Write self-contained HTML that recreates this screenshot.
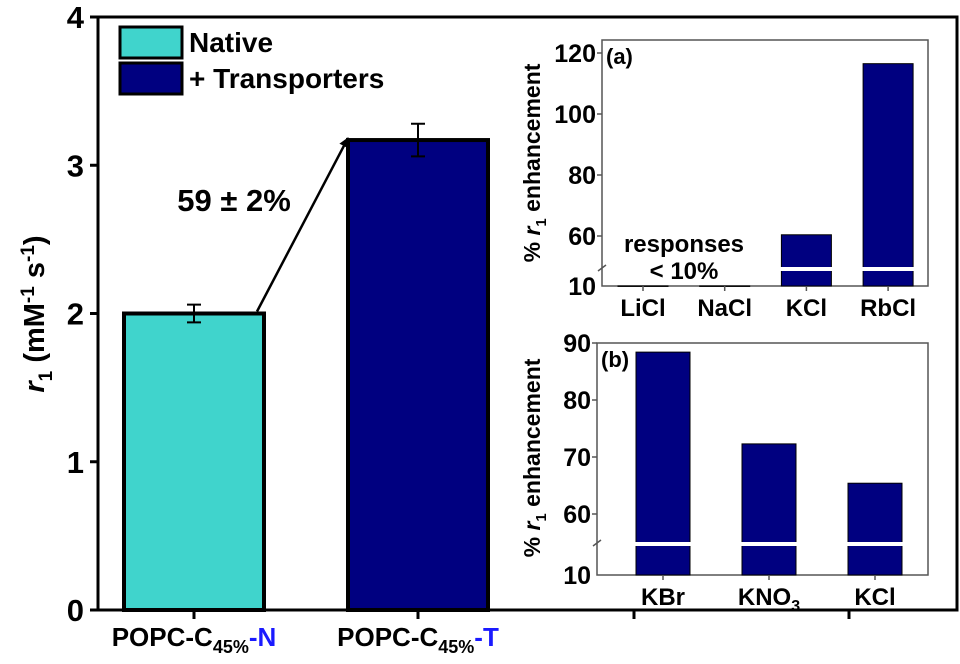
<!DOCTYPE html>
<html><head><meta charset="utf-8"><style>
html,body{margin:0;padding:0;background:#fff;}
svg{display:block;font-family:"Liberation Sans",Arial,sans-serif;font-weight:bold;}
</style></head><body>
<svg id="chart" width="960" height="664" viewBox="0 0 960 664" xmlns="http://www.w3.org/2000/svg">
<defs><marker id="ah" markerWidth="10" markerHeight="10" refX="9" refY="5" orient="auto" markerUnits="userSpaceOnUse"><path d="M0,0 L10,5 L0,10 z" fill="#000"/></marker></defs>
<g id="main"></g><g id="insetA"></g><g id="insetB"></g>
</svg>
<script>
// main chart data
const mainCats = ["N", "T"];
const mainValues = [2.0, 3.17];
const mainErrors = [0.06, 0.11];
const mainColors = ["#40d4cc", "#000080"];
const mainTicks = [0, 1, 2, 3, 4];
// inset (a)
const aCats = ["LiCl", "NaCl", "KCl", "RbCl"];
const aValues = [10.3, 10.3, 60.4, 116.5];
const aTicks = [60, 80, 100, 120];
// inset (b)
const bCats = ["KBr", "KNO3", "KCl"];
const bValues = [88.4, 72.3, 65.4];
const bTicks = [60, 70, 80, 90];

const NS = "http://www.w3.org/2000/svg";
function mk(parent, tag, attrs, text) {
  const e = document.createElementNS(NS, tag);
  for (const k in attrs) e.setAttribute(k, attrs[k]);
  if (text !== undefined) e.textContent = text;
  parent.appendChild(e);
  return e;
}
// ---------- main ----------
const gm = document.getElementById("main");
const X0 = 98, X1 = 957, YT = 17, YB = 610;
const yM = v => YB - v * (YB - YT) / 4;
const xM = i => 194 + i * 224;
let fr = mk(gm, "rect", {x: X0, y: YT, width: X1 - X0, height: YB - YT, fill: "none", stroke: "#000", "stroke-width": 3});


mainTicks.forEach(t => {
  let l = mk(gm, "line", {x1: X0 - 8, x2: X0, y1: yM(t), y2: yM(t), stroke: "#000", "stroke-width": 3});
  
  
  let tx = mk(gm, "text", {x: X0 - 14, y: yM(t) + 11, "text-anchor": "end", "font-size": 31}, String(t));
  
  
});
[194, 418, 634, 849].forEach(x => {
  let l = mk(gm, "line", {x1: x, x2: x, y1: YB, y2: YB + 9, stroke: "#000", "stroke-width": 3});
  
  
});
mainValues.forEach((v, i) => {
  const w = 140;
  let r = mk(gm, "rect", {x: xM(i) - w / 2, y: yM(v), width: w, height: YB - yM(v), fill: mainColors[i], stroke: "#000", "stroke-width": 4});
  
  
  const e = mainErrors[i];
  let eb = mk(gm, "path", {d: `M${xM(i)},${yM(v + e)}V${yM(v - e)}M${xM(i) - 7},${yM(v + e)}h14M${xM(i) - 7},${yM(v - e)}h14`, stroke: "#000", "stroke-width": 2, fill: "none"});
  
  
});
let arr = mk(gm, "line", {x1: xM(0) + 63, y1: yM(mainValues[0]) - 2, x2: xM(1) - 70, y2: yM(mainValues[1]) - 2, stroke: "#000", "stroke-width": 2.5, "marker-end": "url(#ah)"});


let ann = mk(gm, "text", {x: 234, y: 211, "text-anchor": "middle", "font-size": 31}, "59 ± 2%");


// y title
let yt = mk(gm, "text", {transform: "translate(44,314) rotate(-90)", "text-anchor": "middle", "font-size": 29});


yt.innerHTML = '<tspan font-style="italic">r</tspan><tspan font-size="19" dy="8">1</tspan><tspan dy="-8"> (mM</tspan><tspan font-size="19" dy="-10">-1</tspan><tspan dy="10"> s</tspan><tspan font-size="19" dy="-10">-1</tspan><tspan dy="10">)</tspan>';
mainCats.forEach((c, i) => {
  let t = mk(gm, "text", {x: xM(i), y: 646, "text-anchor": "middle", "font-size": 26});
  
  
  t.innerHTML = 'POPC-C<tspan font-size="18" dy="7">45%</tspan><tspan dy="-7" fill="#1a1aff">-' + c + '</tspan>';
});
// legend
[["Native", mainColors[0], 27], ["+ Transporters", mainColors[1], 63]].forEach(([lab, col, y], i) => {
  let s = mk(gm, "rect", {x: 120, y: y, width: 62, height: 31, fill: col, stroke: "#000", "stroke-width": 3});
  
  
  let t = mk(gm, "text", {x: 189, y: y + 25, "font-size": 28}, lab);
  
  
});

// ---------- inset builder ----------
function inset(gid, cats, vals, ticks, cfg) {
  const g = document.getElementById(gid);
  const {L, R, T, B, vTop, yTop, vLow, yLow, brk, barW, label, c0, step, titleX} = cfg;
  const yS = v => v >= vLow ? yLow - (v - vLow) * (yLow - yTop) / (vTop - vLow) : B - (v - 10) * (B - brk - 6) / (vLow - 10);
  const xC = i => c0 + step * i;
  let f = mk(g, "rect", {x: L, y: T, width: R - L, height: B - T, fill: "#fff", stroke: "#555", "stroke-width": 1.5});
  
  
  vals.forEach((v, i) => {
    const top = yS(v);
    let r = mk(g, "rect", {x: xC(i) - barW / 2, y: top, width: barW, height: Math.max(B - top, 0.5), fill: "#000080", stroke: "#000", "stroke-width": 1});
    
    
    if (top < brk) {
      let w = mk(g, "rect", {x: xC(i) - barW / 2 - 1, y: brk, width: barW + 2, height: 4, fill: "#fff"});
      
      
    }
  });
  ticks.forEach(t => {
    let l = mk(g, "line", {x1: L - 5, x2: L, y1: yS(t), y2: yS(t), stroke: "#555", "stroke-width": 1.5});
    
    
    let tx = mk(g, "text", {x: L - 6, y: yS(t) + 9, "text-anchor": "end", "font-size": 25}, String(t));
    
    
  });
  let t10 = mk(g, "text", {x: L - 6, y: B + 9, "text-anchor": "end", "font-size": 25}, "10");
  
  
  let bk = mk(g, "path", {d: `M${L - 4},${brk + 4}l8,-6`, stroke: "#555", "stroke-width": 1.5});
  
  
  cats.forEach((c, i) => {
    let l = mk(g, "line", {x1: xC(i), x2: xC(i), y1: B, y2: B + 5, stroke: "#555", "stroke-width": 1.5});
    
    
    let t = mk(g, "text", {x: xC(i), y: B + 30, "text-anchor": "middle", "font-size": 24});
    
    
    t.innerHTML = c.replace(/(\d)$/, '<tspan font-size="16" dy="6">$1</tspan>');
  });
  let pl = mk(g, "text", {x: L + 4, y: T + 24, "font-size": 22}, label);
  
  
  let ytl = mk(g, "text", {transform: `translate(${titleX},${cfg.titleY}) rotate(-90)`, "text-anchor": "middle", "font-size": 23});
  
  
  ytl.innerHTML = '% <tspan font-style="italic">r</tspan><tspan font-size="15" dy="6">1</tspan><tspan dy="-6"> enhancement</tspan>';
  return g;
}
inset("insetA", aCats, aValues, aTicks, {L: 602, R: 928, T: 40, B: 286, vTop: 120, yTop: 53, vLow: 60, yLow: 236, brk: 267, barW: 50, label: "(a)", c0: 643, step: 81.7, titleX: 540, titleY: 163});
inset("insetB", bCats, bValues, bTicks, {L: 597, R: 928, T: 343, B: 575, vTop: 90, yTop: 343, vLow: 60, yLow: 514, brk: 542, barW: 54, label: "(b)", c0: 663, step: 106, titleX: 540, titleY: 458});
const ga = document.getElementById("insetA");
let rs = mk(ga, "text", {x: 684, y: 252, "text-anchor": "middle", "font-size": 24}, "responses");


let rs2 = mk(ga, "text", {x: 684, y: 279, "text-anchor": "middle", "font-size": 24}, "< 10%");


</script>
</body></html>
